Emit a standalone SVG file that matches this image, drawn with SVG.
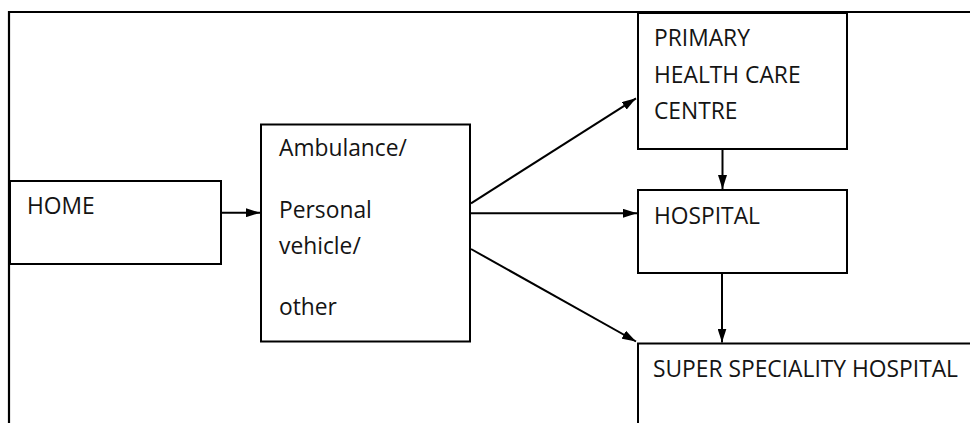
<svg xmlns="http://www.w3.org/2000/svg" width="970" height="423" viewBox="0 0 970 423">
<style>
.box{fill:#fff;stroke:#000;stroke-width:2}
.lbl{font-family:"Open Sans","Noto Sans",sans-serif;font-size:22.8px;fill:#141414}
.con{stroke:#000;stroke-width:2;fill:none}
.frame{stroke:#000;stroke-width:2.2;fill:none}
</style>
<defs>
<marker id="ah" markerUnits="userSpaceOnUse" markerWidth="15" markerHeight="9" refX="14" refY="4.5" orient="auto">
<path d="M0,0 L14,4.5 L0,9 z" fill="#000"/>
</marker>
</defs>
<rect width="970" height="423" fill="#fff"/>
<g id="frame">
<path class="frame" d="M9,423 V12 H970"/>
</g>
<g id="home">
<rect class="box" x="10" y="181" width="211" height="83"/>
<text class="lbl" x="27" y="213.5">HOME</text>
</g>
<g id="transport">
<rect class="box" x="261" y="124.5" width="209" height="217"/>
<text class="lbl" x="279" y="156">Ambulance/</text>
<text class="lbl" x="279" y="217.5">Personal</text>
<text class="lbl" x="279" y="253.5">vehicle/</text>
<text class="lbl" x="279" y="314.5">other</text>
</g>
<g id="phc">
<rect class="box" x="638" y="13" width="209" height="136"/>
<text class="lbl" x="654" y="46">PRIMARY</text>
<text class="lbl" x="654" y="82.5">HEALTH CARE</text>
<text class="lbl" x="654" y="118.5">CENTRE</text>
</g>
<g id="hospital">
<rect class="box" x="638" y="190" width="209" height="83"/>
<text class="lbl" x="654" y="223.5">HOSPITAL</text>
</g>
<g id="superspeciality">
<path class="box" d="M638,425 V343.5 H972"/>
<text class="lbl" x="653" y="376.5">SUPER SPECIALITY HOSPITAL</text>
</g>
<g id="connectors">
<line class="con" x1="221" y1="212.7" x2="260" y2="212.7" marker-end="url(#ah)"/>
<line class="con" x1="471" y1="203.3" x2="636" y2="98.3" marker-end="url(#ah)"/>
<line class="con" x1="471" y1="213.3" x2="637" y2="213.3" marker-end="url(#ah)"/>
<line class="con" x1="471" y1="249" x2="636" y2="341.5" marker-end="url(#ah)"/>
<line class="con" x1="722.5" y1="149" x2="722.5" y2="189" marker-end="url(#ah)"/>
<line class="con" x1="722" y1="273" x2="722" y2="342.5" marker-end="url(#ah)"/>
</g>
</svg>
